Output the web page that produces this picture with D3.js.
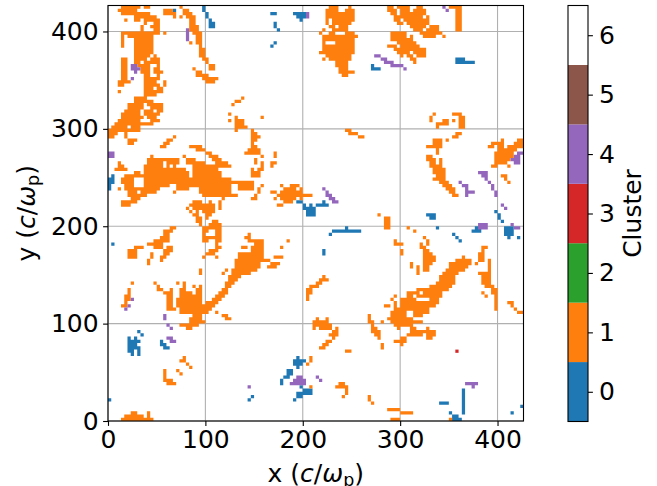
<!DOCTYPE html>
<html>
<head>
<meta charset="utf-8">
<script src="https://cdnjs.cloudflare.com/ajax/libs/d3/7.8.5/d3.min.js"></script>
<style>
html,body{margin:0;padding:0;background:#fff;overflow:hidden}
text{font-family:"DejaVu Sans",sans-serif;fill:#000}
</style>
</head>
<body>
<svg id="c" width="657" height="486"></svg>
<script>
// Values: each row lists [row, firstCol, lastCol, firstCol, lastCol, ...]; rows count down from the top of a 128 x 128 grid.
const clusterLabels = [0,1,2,3,4,5,6];
const xTicks = [0,100,200,300,400];
const yTicks = [0,100,200,300,400];
const gridSize = 128;
const cellSpan = 10/3;

const cluster1 = [
[0,4,9,11,12,22,22,68,70,74,74,86,87,89,92,95,96,105,108],
[1,3,8,17,19,23,24,67,70,73,75,86,88,90,92,94,97,107,108],
[2,4,12,17,20,23,25,67,75,87,88,90,97,107,108],
[3,8,14,20,20,22,22,24,26,67,75,88,96,98,98,107,108],
[4,5,5,8,9,11,15,25,26,67,67,69,75,88,89,91,98,107,108],
[5,11,11,14,15,25,26,67,67,69,74,89,90,92,98,107,108],
[6,10,10,13,15,25,27,68,69,71,73,93,97,99,101,107,108],
[7,10,10,14,15,25,27,66,66,69,73,94,96,98,101,107,108],
[8,4,15,17,17,26,28,65,65,68,69,73,75,87,91,96,102],
[9,4,4,6,13,27,28,66,76,87,91,93,93,97,100,103,103],
[10,4,4,8,13,27,28,66,75,87,93],
[11,4,4,8,13,25,25,27,28,66,66,70,75,89,94],
[12,4,4,8,13,28,28,66,75,86,88,90,95],
[13,8,13,28,29,66,75,88,92,93,97],
[14,8,13,28,29,65,75,89,92,94,97],
[15,8,12,14,14,28,29,67,74,90,90,92,93,95,97],
[16,4,5,8,11,13,15,29,30,66,66,68,74,93,94],
[17,4,5,8,9,11,15,30,30,70,73,94,94],
[18,4,5,9,12,15,15,31,32,70,73],
[19,4,5,10,12,14,15,26,26,31,32,71,73],
[20,4,5,10,12,14,16,27,28,71,75],
[21,4,5,11,12,15,15,27,30,72,73],
[22,4,5,11,15,29,33],
[23,3,6,11,14,17,17,30,32],
[24,3,4,11,15,17,17],
[25,11,13,15,16],
[26,3,3,11,16],
[27,11,14],
[28,8,11,41,41],
[29,8,13,39,40],
[30,6,10,12,16,38,38],
[31,6,10,13,16],
[32,5,9,11,13,15,16],
[33,4,9,11,15,37,37,100,100,106,108],
[34,4,10,12,14,39,39,47,47,99,99,108,109],
[35,3,9,13,15,37,37,39,41,99,99,103,104,106,106,108,109],
[36,2,13,39,41,101,104,108,109],
[37,1,5,7,9,39,42,101,101,108,109],
[38,0,9,39,39,44,44,73,74],
[39,0,2,5,5,44,45,74,76,107,108],
[40,0,1,5,5,20,20,44,46,77,78,106,107],
[41,6,8,18,19,44,45,100,102,104,104,121,121,126,127],
[42,6,7,17,18,44,44,100,102,118,121,125,127],
[43,16,17,25,28,44,45,98,102,117,118,120,121,123,127],
[44,27,29,43,46,101,101,120,125],
[45,30,31,42,46,51,51,101,101,119,124],
[46,13,13,23,23,31,33,47,47,51,51,98,99,119,124],
[47,12,21,24,26,32,34,45,45,98,100,102,102,119,123],
[48,3,3,12,16,18,21,24,29,33,36,45,45,47,47,50,51,99,100,102,102,119,122],
[49,3,4,11,16,18,18,20,20,26,34,35,37,47,47,50,50,99,102,118,119,123,123],
[50,2,5,11,23,26,33,44,44,46,47,100,103],
[51,8,9,11,24,26,34,44,46,100,103],
[52,5,24,26,34,44,46,101,103,121,122],
[53,4,7,11,37,100,103,122,122],
[54,4,7,11,44,102,104,123,123],
[55,5,7,11,18,21,37,40,44,47,47,53,53,56,58,103,105],
[56,3,3,5,15,21,24,28,37,40,44,46,46,54,57,59,59,104,106],
[57,6,8,10,14,20,20,28,37,46,46,50,51,53,59,105,106],
[58,6,11,29,39,45,45,52,62,106,107],
[59,7,9,35,35,44,45,51,51,53,57,59,59],
[60,4,8,26,28,31,31,34,34,54,56],
[61,4,6,25,32,34,34,52,53],
[62,24,24,26,32,34,34],
[63,25,25,27,27,29,32],
[64,26,27,30,31,83,83],
[65,27,28,30,30,85,86],
[66,27,28,32,33,85,86],
[67,28,28,31,34,85,86],
[68,19,20,29,34,85,86,92,92],
[69,17,19,29,30,33,34,94,94],
[70,17,18,29,29,33,34,43,43],
[71,16,18,29,34,42,43,97,97],
[72,14,18,29,30,33,34,43,47,55,55,88,88,98,98],
[73,12,16,33,33,45,47,88,90,96,96,98,98],
[74,8,10,14,16,18,19,33,34,41,42,44,47,53,53,96,97,115,116],
[75,6,8,17,19,31,33,44,47,90,90,97,98,115,115],
[76,6,8,13,13,17,18,30,32,40,47,90,90,97,99,114,115],
[77,6,8,13,13,16,17,29,29,33,33,40,47,51,53,97,100,109,109,114,115],
[78,12,12,16,16,39,49,97,100,107,111,114,115,117,117],
[79,12,12,39,46,50,52,93,93,97,99,105,111,113,113,117,117],
[80,39,46,49,51,93,93,95,95,97,98,105,110,117,117],
[81,28,28,36,36,38,45,95,95,97,98,104,107,108,109,117,117],
[82,28,28,35,35,38,43,95,95,103,107,114,117],
[83,37,40,66,66,102,106,115,117],
[84,37,39,65,67,102,106,115,117],
[85,7,7,14,14,21,21,23,23,36,38,64,65,101,106,115,117],
[86,15,15,23,23,26,26,28,28,36,37,62,64,99,105,116,118],
[87,6,6,15,16,19,19,22,23,27,28,35,36,61,62,95,104,118,119],
[88,6,6,17,19,22,25,27,28,34,36,61,62,92,95,97,102,115,115,118,119],
[89,5,6,18,19,22,28,33,35,61,61,88,88,92,93,95,102,116,116,119,119],
[90,5,6,18,19,21,28,32,34,61,61,87,87,90,94,99,101,119,119],
[91,5,5,18,19,21,28,30,33,88,88,90,101,119,119,123,124],
[92,4,5,18,19,21,32,85,86,88,88,90,100,119,119,124,124],
[93,18,20,22,31,88,92,93,98,119,119,125,125],
[94,22,30,33,33,87,91,94,98,126,127],
[95,26,28,35,36,80,80,87,91,94,96],
[96,25,28,36,37,64,64,67,67,80,80,86,93],
[97,25,29,63,67,80,81,84,84,87,96],
[98,22,27,63,68,81,81,88,93],
[99,24,25,63,63,65,68,70,70,81,82,89,89,93,94,98,98],
[100,69,70,81,83,93,100],
[101,68,70,82,83,92,96,98,100],
[102,69,69,83,83,90,91,98,99],
[103,67,68,88,91],
[104,66,67,84,84,90,90],
[105,65,66,84,84],
[106,73,74],
[108,23,23,62,62],
[109,22,23,62,62],
[110,24,24,61,61],
[111,25,25],
[112,17,17,21,21],
[113,17,17,22,22],
[114,17,17],
[115,17,19],
[116,18,20,71,72],
[117,62,62,70,73],
[118,73,73],
[119,73,73],
[120,72,72,80,80],
[121,80,80],
[122,81,81],
[124,86,89],
[125,7,8,12,12,90,93],
[126,5,10,12,12],
[127,4,13,87,89,105,105]
];

const cluster0 = [
[0,29,29],[1,20,20,29,29],[2,30,30,50,51,57,60],[3,30,30,58,60],[4,31,31,59,59],
[5,31,32,51,51],[6,31,32,51,51],[7,52,52],[11,51,51],[12,50,50],
[16,107,109],[17,107,112],[18,81,81],[19,81,83],
[52,1,1],[53,0,1],[54,0,1],[55,0,0],[56,0,0],
[60,58,59,66,66],[61,60,60,62,62,64,67],[62,60,63],[63,61,63,119,119],[64,61,63,98,100,120,120],
[65,99,100,120,120],[66,121,121],[68,73,73,101,101,113,114,122,124],
[69,69,77,112,114,122,124],[70,68,68,106,106,122,124],[71,107,107,123,123,126,126],[72,108,108],
[73,1,1],[75,66,66],[76,66,66],
[100,9,9],[101,10,10],[102,6,6,8,8],[103,6,9,16,16],[104,6,8,16,17],[105,6,9,17,18],[106,6,7,9,9],[107,7,7,9,9],
[108,58,58],[109,57,60],[110,57,59],[111,58,58],[112,55,56],[113,55,56],[114,54,55],[115,53,53],[116,53,53],
[117,59,59],[118,60,62,109,109],[119,58,62,109,109],[120,44,44,58,59,109,109],[121,0,0,43,43,57,57,109,109],
[122,102,104,109,109],[123,109,109,127,127],[124,109,109],[125,105,105,109,109,124,124],
[126,106,107],[127,106,108]
];

const cluster3 = [[106,107,107]];

const cluster4 = [
[0,103,103],[1,104,104],[2,61,61],[3,61,61],[7,24,24],[8,24,24],[9,24,24],[10,24,24],
[15,82,83],[16,84,85],[17,85,87],[18,7,8,87,90],[19,7,9,91,91],[20,8,8],[22,7,7],
[45,0,1,126,127],[46,0,1,125,126],[47,124,126],[48,125,126],
[51,114,116],[52,115,116],[53,116,116],[54,108,108,117,117],[55,109,110,118,118],
[56,66,66,110,110,118,118],[57,67,67,110,112,119,119],[58,67,68,110,110,119,119],[59,68,69],[60,69,70],
[61,121,121],[62,122,122],[67,114,116,124,124],[68,114,116,125,126],
[90,7,7],[92,6,6],[93,5,5],[95,17,17],[96,17,17],[98,18,18],[99,19,19],[102,18,19],[103,19,20],
[114,58,59,64,64],[115,57,60,65,65],[116,56,60,110,113],[117,43,43,112,112]
];

const plot = {left:108, right:523.5, top:5.5, bottom:421};
const domainMax = gridSize * cellSpan;
const svg = d3.select("#c");

const x = d3.scaleLinear().domain([0,domainMax]).range([plot.left,plot.right]);
const y = d3.scaleLinear().domain([0,domainMax]).range([plot.bottom,plot.top]);
const color = d3.scaleOrdinal().domain(clusterLabels).range([...d3.schemeCategory10.slice(0,5), "#8c564b", "#ffffff"]);

// grid
const grid = svg.append("g");
grid.selectAll("line.v").data(xTicks).join("line").attr("class","v").attr("x1",d=>x(d)).attr("x2",d=>x(d))
  .attr("y1",plot.top).attr("y2",plot.bottom).attr("stroke","#b0b0b0").attr("stroke-width",1.1);
grid.selectAll("line.h").data(yTicks).join("line").attr("class","h").attr("y1",d=>y(d)).attr("y2",d=>y(d))
  .attr("x1",plot.left).attr("x2",plot.right).attr("stroke","#b0b0b0").attr("stroke-width",1.1);

// cells: one path per cluster, so neighbouring rows join without seams
function clusterPath(rows){
  const p = d3.path();
  rows.forEach(r=>{
    const top = y((gridSize-r[0])*cellSpan), bottom = y((gridSize-r[0]-1)*cellSpan);
    for(let i=1;i<r.length;i+=2){
      const x0 = x(r[i]*cellSpan), x1 = x((r[i+1]+1)*cellSpan);
      p.rect(x0, top, x1-x0, bottom-top);
    }
  });
  return p.toString();
}
const layers = [{cluster:0,rows:cluster0},{cluster:1,rows:cluster1},{cluster:3,rows:cluster3},{cluster:4,rows:cluster4}];
svg.append("g").selectAll("path").data(layers).join("path")
  .attr("d",d=>clusterPath(d.rows))
  .attr("fill",d=>color(d.cluster));

// axes
const fs = 25;
function styleAxis(g){
  g.selectAll(".tick line").attr("stroke","#000").attr("stroke-width",1.1);
  g.selectAll(".tick text").attr("font-size",fs).attr("font-family","DejaVu Sans").attr("fill","#000");
  g.select(".domain").attr("stroke","none");
}
svg.append("g").attr("transform",`translate(0,${plot.bottom})`)
  .call(d3.axisBottom(x).tickValues(xTicks).tickSize(4.9).tickPadding(4.5).tickFormat(d3.format("d"))).call(styleAxis);
svg.append("g").attr("transform",`translate(${plot.left},0)`)
  .call(d3.axisLeft(y).tickValues(yTicks).tickSize(4.9).tickPadding(4.5).tickFormat(d3.format("d"))).call(styleAxis);
svg.append("rect").attr("x",plot.left).attr("y",plot.top).attr("width",plot.right-plot.left).attr("height",plot.bottom-plot.top)
  .attr("fill","none").attr("stroke","#000").attr("stroke-width",1.1);

// axis titles
function mathLabel(t, name){
  t.attr("font-size",fs).attr("text-anchor","middle");
  t.append("tspan").text(name+" (");
  t.append("tspan").attr("font-style","italic").text("c");
  t.append("tspan").text("/");
  t.append("tspan").attr("font-style","italic").text("ω");
  t.append("tspan").attr("font-style","normal").attr("font-size",fs*0.7).attr("dy",3.8).text("p");
  t.append("tspan").attr("dy",-3.8).text(")");
}
svg.append("text").attr("x",(plot.left+plot.right)/2).attr("y",482).call(mathLabel,"x");
svg.append("text").attr("transform",`translate(35,${(plot.top+plot.bottom)/2}) rotate(-90)`).call(mathLabel,"y");

// colourbar
const cb = {left:568, right:588, top:5.5, bottom:421.5};
const yc = d3.scaleLinear().domain([-0.5,6.5]).range([cb.bottom,cb.top]);
svg.append("g").selectAll("rect").data(clusterLabels).join("rect")
  .attr("x",cb.left).attr("width",cb.right-cb.left)
  .attr("y",d=>yc(d+0.5)).attr("height",d=>yc(d-0.5)-yc(d+0.5)).attr("fill",d=>color(d));
svg.append("rect").attr("x",cb.left).attr("y",cb.top).attr("width",cb.right-cb.left).attr("height",cb.bottom-cb.top)
  .attr("fill","none").attr("stroke","#000").attr("stroke-width",1.1);
svg.append("g").attr("transform",`translate(${cb.right},0)`)
  .call(d3.axisRight(yc).tickValues(clusterLabels).tickSize(4.9).tickPadding(6).tickFormat(d3.format("d"))).call(styleAxis);
svg.append("text").attr("transform",`translate(641,${(cb.top+cb.bottom)/2}) rotate(-90)`)
  .attr("font-size",fs).attr("text-anchor","middle").text("Cluster");
</script>
</body>
</html>
